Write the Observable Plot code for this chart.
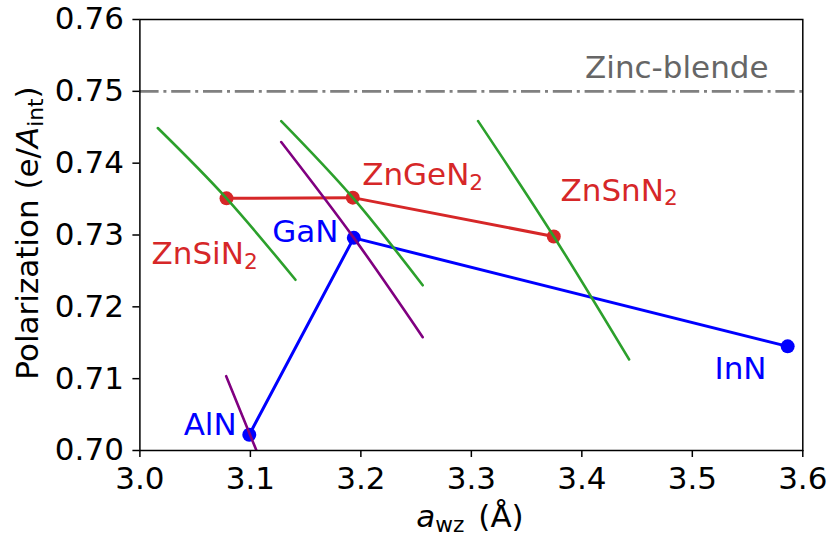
<!DOCTYPE html>
<html><head><meta charset="utf-8">
<script src="https://cdn.jsdelivr.net/npm/d3@7"></script>
<script src="https://cdn.jsdelivr.net/npm/@observablehq/plot@0.6"></script>
<style>body{margin:0;background:#fff;}</style>
</head><body><div id="chart"></div>
<script>
// ---- data ----
const nitrideNames = ["AlN", "GaN", "InN"];
const nitrideA = [3.099, 3.1936, 3.5863];
const nitrideP = [0.7022, 0.7296, 0.7145];

const znNames = ["ZnSiN_{2}", "ZnGeN_{2}", "ZnSnN_{2}"];
const znA = [3.0784, 3.1927, 3.3746];
const znP = [0.7351, 0.7352, 0.7298];

// strain curves (green: ZnXN2, purple: nitrides)
const greenSiA = [3.0162, 3.0784, 3.1408];
const greenSiP = [0.74489, 0.7351, 0.72377];
const greenGeA = [3.1279, 3.1927, 3.2560];
const greenGeP = [0.74586, 0.7352, 0.7230];
const greenSnA = [3.3061, 3.3746, 3.4428];
const greenSnP = [0.74586, 0.7298, 0.71267];
const purpleGaA = [3.1279, 3.1936, 3.2560];
const purpleGaP = [0.74294, 0.7296, 0.71578];
const purpleAlA = [3.0781, 3.1055];
const purpleAlP = [0.71035, 0.7000];

const zincBlende = 0.75;

const xTicks = [3.0, 3.1, 3.2, 3.3, 3.4, 3.5, 3.6];
const yTicks = [0.70, 0.71, 0.72, 0.73, 0.74, 0.75, 0.76];

// annotation anchors (data coordinates)
const nitrideLabelA = [3.0876, 3.1798, 3.5672];
const nitrideLabelP = [0.7021, 0.7290, 0.7100];
const znLabelA = [3.0105, 3.2012, 3.3807];
const znLabelP = [0.7260, 0.7369, 0.7348];

// ---- build ----
const FS = 31;
const nitrides = nitrideNames.map((n, i) => ({name: n, a: nitrideA[i], p: nitrideP[i], la: nitrideLabelA[i], lp: nitrideLabelP[i]}));
const zn = znNames.map((n, i) => ({name: n, a: znA[i], p: znP[i], la: znLabelA[i], lp: znLabelP[i]}));
const toPts = (A, P, g) => A.map((a, i) => ({a, p: P[i], g}));
const greens = [...toPts(greenSiA, greenSiP, "Si"), ...toPts(greenGeA, greenGeP, "Ge"), ...toPts(greenSnA, greenSnP, "Sn")];
const purples = [...toPts(purpleGaA, purpleGaP, "Ga"), ...toPts(purpleAlA, purpleAlP, "Al")];

const RED = "#d62728", BLUE = "#0000ff", GREEN = "#2ca02c", PURPLE = "#800080";

const chart = Plot.plot({
  width: 829,
  height: 542,
  marginLeft: 139.4,
  marginRight: 26.7,
  marginTop: 19,
  marginBottom: 92,
  style: {fontFamily: "DejaVu Sans", fontSize: FS + "px", color: "black", background: "white"},
  x: {domain: [3.0, 3.6]},
  y: {domain: [0.70, 0.76]},
  marks: [
    Plot.ruleY([zincBlende], {stroke: "#808080", strokeWidth: 2.8, strokeDasharray: "19.2,4.8,3,4.8"}),
    Plot.text(["Zinc-blende"], {x: () => 3.569, y: () => 0.7519, text: d => d, fill: "#666666", textAnchor: "end", lineAnchor: "bottom"}),
    Plot.line(zn, {x: "a", y: "p", stroke: RED, strokeWidth: 3}),
    Plot.dot(zn, {x: "a", y: "p", fill: RED, r: 7}),
    Plot.line(nitrides, {x: "a", y: "p", stroke: BLUE, strokeWidth: 3}),
    Plot.dot(nitrides, {x: "a", y: "p", fill: BLUE, r: 7}),
    Plot.line(greens, {x: "a", y: "p", z: "g", stroke: GREEN, strokeWidth: 2.6, curve: "natural"}),
    Plot.line(purples, {x: "a", y: "p", z: "g", stroke: PURPLE, strokeWidth: 2.6, curve: "natural", clip: true}),
    Plot.text(zn, {x: "la", y: "lp", text: "name", fill: RED, textAnchor: "start", lineAnchor: "bottom"}),
    Plot.text(nitrides, {x: "la", y: "lp", text: "name", fill: BLUE, textAnchor: "end", lineAnchor: "bottom"}),
    Plot.frame({stroke: "black", strokeWidth: 1.5}),
    Plot.axisX({ticks: xTicks, tickFormat: d3.format(".1f"), tickSize: 7, tickPadding: 9, strokeWidth: 1.5, label: null}),
    Plot.axisY({ticks: yTicks, tickFormat: d3.format(".2f"), tickSize: 7, tickPadding: 9, strokeWidth: 1.5, label: null})
  ]
});

// rich text: *italic*, _{subscript}
function richText(el, markup, fs, gapAfterSub = 0) {
  while (el.firstChild) el.removeChild(el.firstChild);
  const ns = "http://www.w3.org/2000/svg";
  const parts = markup.split(/(\*[^*]+\*|_\{[^}]+\})/g).filter(s => s.length);
  let shift = 0;
  for (const part of parts) {
    const t = document.createElementNS(ns, "tspan");
    if (part.startsWith("_{")) {
      t.textContent = part.slice(2, -1);
      t.setAttribute("font-size", fs * 0.7);
      t.setAttribute("dy", fs * 0.16);
      shift = fs * 0.16;
    } else {
      if (part.startsWith("*")) { t.textContent = part.slice(1, -1); t.setAttribute("font-style", "italic"); }
      else t.textContent = part;
      if (shift) { t.setAttribute("dy", -shift); if (gapAfterSub) t.setAttribute("dx", gapAfterSub); shift = 0; }
    }
    el.appendChild(t);
  }
}

const svg = d3.select(chart);
svg.selectAll("text").each(function() {
  const s = this.textContent;
  if (s.includes("_{") || s.includes("*")) richText(this, s, FS);
});

// axis titles
const yl = svg.append("text").attr("transform", "translate(38,233) rotate(-90)").attr("text-anchor", "middle").attr("fill", "black").attr("font-size", FS);
richText(yl.node(), "Polarization (e/*A*_{int})", FS);
const xl = svg.append("text").attr("x", 470).attr("y", 527).attr("text-anchor", "middle").attr("fill", "black").attr("font-size", FS);
richText(xl.node(), "*a*_{wz} (Å)", FS, 4);

document.getElementById("chart").appendChild(chart);
</script>
</body></html>
